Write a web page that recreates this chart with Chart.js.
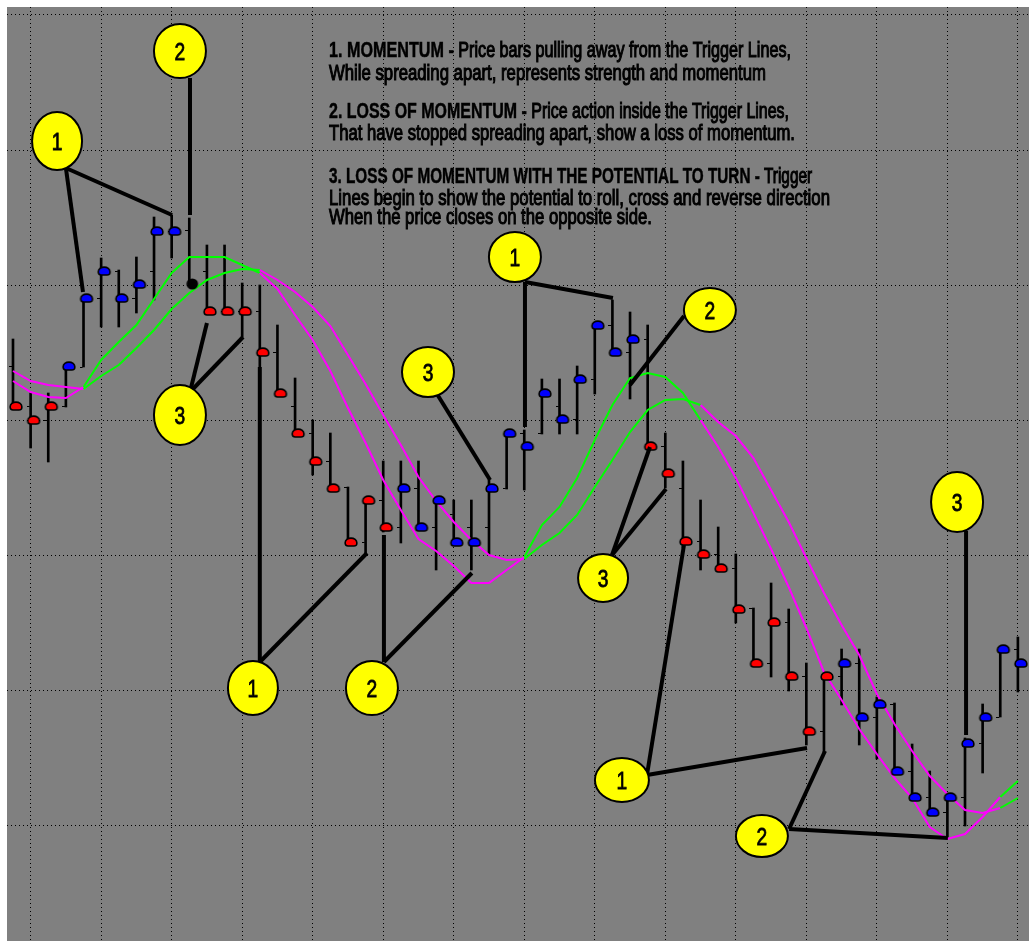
<!DOCTYPE html>
<html>
<head>
<meta charset="utf-8">
<script src="https://cdn.jsdelivr.net/npm/chart.js@4.4.0/dist/chart.umd.min.js"></script>
<style>
  html, body { margin: 0; padding: 0; background: #fff; }
  #wrap { width: 1029px; height: 941px; }
</style>
</head>
<body>
<div id="wrap"><canvas id="chart" width="1029" height="941"></canvas></div>
<script>
// price bars, one per session (bar index = position in array)
const highs = [621, 567, 567, 594, 662, 702, 690, 703, 743, 745,
  742, 715, 715, 677, 675, 635, 582, 540, 527, 473,
  460, 499, 499, 499, 460, 460, 460, 480, 527, 530,
  581, 581, 594, 637, 660, 648, 635, 527, 499, 460,
  433, 406, 352, 377, 351, 297, 284, 311, 311, 263,
  257, 216, 189, 163, 222, 256, 311, 323];
const lows = [554, 512, 498, 553, 593, 633, 633, 647, 660, 702,
  676, 649, 649, 623, 593, 567, 527, 485, 472, 418,
  405, 428, 417, 430, 390, 418, 390, 405, 471, 470,
  526, 526, 526, 566, 608, 561, 513, 472, 412, 390,
  392, 337, 297, 283, 269, 215, 208, 255, 215, 201,
  189, 163, 148, 123, 134, 187, 243, 268];
const opens = [594, 554, 540, 554, 593, 662, 689, 662, 689, 729,
  730, 689, 649, 649, 649, 608, 554, 527, 499, 473,
  418, 460, 433, 472, 433, 446, 433, 433, 472, 527,
  527, 554, 541, 581, 635, 608, 621, 514, 472, 419,
  406, 392, 352, 297, 338, 284, 229, 284, 297, 243,
  256, 189, 163, 148, 163, 217, 243, 311];
const closes = [554, 540, 554, 594, 662, 689, 662, 676, 729, 729,
  676, 649, 649, 649, 608, 567, 527, 499, 472, 418,
  460, 433, 472, 433, 460, 418, 418, 472, 527, 514,
  567, 541, 581, 635, 608, 621, 514, 487, 419, 406,
  392, 351, 297, 338, 284, 229, 284, 297, 243, 256,
  189, 163, 148, 163, 217, 243, 311, 297];
// close marker: r = red, b = blue, k = black
const closeMarks = ["r", "r", "r", "b", "b", "b", "b", "b", "b", "b",
  "k", "r", "r", "r", "r", "r", "r", "r", "r", "r",
  "r", "r", "b", "b", "b", "b", "b", "b", "b", "b",
  "b", "b", "b", "b", "b", "b", "r", "r", "r", "r",
  "r", "r", "r", "r", "r", "r", "r", "b", "b", "b",
  "b", "b", "b", "b", "b", "b", "b", "b"];

// the two trigger lines
const triggerFast = [579, 568, 563, 562, 573, 600, 618, 635, 661, 687,
  703, 703, 703, 695, 687, 671, 645, 620, 589, 552,
  517, 480, 450, 421, 409, 394, 377, 377, 390, 403,
  435, 453, 482, 520, 555, 582, 587, 583, 567, 540,
  513, 482, 447, 411, 373, 332, 288, 260, 231, 206,
  182, 162, 133, 121, 126, 143, 163, 179];
const triggerSlow = [589, 579, 575, 573, 571, 584, 595, 612, 630, 651,
  667, 680, 687, 691, 690, 680, 668, 653, 634, 605,
  576, 545, 515, 483, 459, 438, 420, 405, 400, 401,
  415, 427, 445, 473, 500, 528, 550, 560, 561, 555,
  538, 524, 502, 470, 438, 402, 367, 335, 305, 266,
  236, 209, 184, 166, 150, 147, 152, 162];

// grid positions
const gridBars = [1, 5, 9, 13, 17, 21, 25, 29, 33, 37, 41, 45, 49, 53, 57];
const gridPrices = [135, 270, 405, 540, 675, 810, 945];

// numbered callouts: circle centre, hub on the rim, and the bar/price each arm points to
const callouts = [
  { num: "2", at: [9.47, 909], hub: [10.04, 882], to: [[10.04, 745]], r: [26, 27] },
  { num: "1", at: [2.5, 819], hub: [3.0, 792], to: [[3.97, 668], [9.02, 745]], r: [25, 29] },
  { num: "3", at: [9.47, 545], hub: [10.04, 568], to: [[11.0, 637], [13.05, 623]], r: [26, 30] },
  { num: "1", at: [13.61, 272], hub: [14.0, 298], to: [[14.0, 593], [20.08, 407]], r: [25, 27] },
  { num: "2", at: [20.36, 272], hub: [21.04, 298], to: [[21.04, 425], [26.03, 387]], r: [26, 27] },
  { num: "3", at: [23.54, 588], hub: [24.05, 566], to: [[27.06, 480]], r: [26, 25] },
  { num: "1", at: [28.47, 703], hub: [29.04, 678], to: [[29.04, 533], [34.03, 662]], r: [26, 25] },
  { num: "2", at: [39.53, 650], hub: [38.06, 644], to: [[35.0, 575]], r: [26, 22] },
  { num: "3", at: [33.47, 382], hub: [33.98, 405], to: [[36.13, 513], [37.04, 471]], r: [25, 24] },
  { num: "1", at: [34.54, 180], hub: [35.96, 185], to: [[38.06, 415], [45.04, 212]], r: [27, 22] },
  { num: "2", at: [42.48, 124], hub: [44.02, 131], to: [[46.06, 209], [53.03, 122]], r: [26, 21] },
  { num: "3", at: [53.55, 458], hub: [54.06, 429], to: [[54.06, 225]], r: [26, 30] },
];

const noteLines = [
  { bold: "1. MOMENTUM - ", text: "Price bars pulling away from the Trigger Lines," },
  { bold: "", text: "While spreading apart, represents strength and momentum" },
  { bold: "2. LOSS OF MOMENTUM - ", text: "Price action inside the Trigger Lines," },
  { bold: "", text: "That have stopped spreading apart, show a loss of momentum." },
  { bold: "3. LOSS OF MOMENTUM WITH THE POTENTIAL TO TURN - ", text: "Trigger" },
  { bold: "", text: "Lines begin to show the potential to roll, cross and reverse direction" },
  { bold: "", text: "When the price closes on the opposite side." },
];
const noteX = 329;
const noteBaselines = [57, 80, 118, 140, 183, 205, 224];
const noteWidths = [462, 437, 460, 466, 483, 501, 323];
const noteFont = '"Liberation Sans", Arial, sans-serif';

const upColor = "#00ff00";
const downColor = "#ff00ff";
const markColors = { r: "#ff0000", b: "#0000ff", k: "#000000" };

// little dome that sits just right of the bar
const makeDot = (fill, round) => {
  const c = document.createElement("canvas");
  c.width = 26;
  c.height = 14;
  const g = c.getContext("2d");
  g.fillStyle = fill;
  g.strokeStyle = "#000";
  g.lineWidth = 1.6;
  g.beginPath();
  if (round) {
    g.ellipse(16, 7, 5, 4.8, 0, 0, Math.PI * 2);
  } else {
    g.moveTo(10.2, 8.5);
    g.ellipse(16, 7.5, 5.8, 4.4, 0, Math.PI, Math.PI * 2);
    g.lineTo(21.8, 9);
    g.quadraticCurveTo(21.5, 11, 19, 11);
    g.lineTo(13, 11);
    g.quadraticCurveTo(10.5, 11, 10.2, 8.5);
    g.closePath();
  }
  g.fill();
  g.stroke();
  return c;
};
const dotImages = {
  r: makeDot(markColors.r, false),
  b: makeDot(markColors.b, false),
  k: makeDot(markColors.k, true),
};

const tickImage = (() => {
  const c = document.createElement("canvas");
  c.width = 8;
  c.height = 2;
  const g = c.getContext("2d");
  g.fillStyle = "#000";
  g.fillRect(0, 1, 3, 1);
  return c;
})();

const fastAbove = (i) => triggerFast[i] >= triggerSlow[i];
const segColor = (ctx) => (fastAbove(ctx.p0DataIndex) ? upColor : downColor);

const backdrop = {
  id: "backdrop",
  beforeDraw(chart) {
    const { ctx, chartArea: a } = chart;
    ctx.save();
    ctx.fillStyle = "#ffffff";
    ctx.fillRect(0, 0, chart.width, chart.height);
    ctx.fillStyle = "#808080";
    ctx.fillRect(a.left, a.top, a.right - a.left, a.bottom - a.top);
    ctx.restore();
  },
};

const notes = {
  id: "notes",
  afterDatasetsDraw(chart) {
    const ctx = chart.ctx;
    noteLines.forEach((ln, i) => {
      ctx.save();
      ctx.font = `bold 22px ${noteFont}`;
      const wb = ctx.measureText(ln.bold).width;
      ctx.font = `22px ${noteFont}`;
      const wr = ctx.measureText(ln.text).width;
      const sx = noteWidths[i] / (wb + wr);
      ctx.translate(noteX, noteBaselines[i]);
      ctx.scale(sx, 1);
      ctx.fillStyle = "#000";
      ctx.strokeStyle = "#000";
      ctx.textBaseline = "alphabetic";
      ctx.font = `bold 22px ${noteFont}`;
      ctx.lineWidth = 0.5;
      ctx.fillText(ln.bold, 0, 0);
      ctx.strokeText(ln.bold, 0, 0);
      ctx.font = `22px ${noteFont}`;
      ctx.lineWidth = 1.1;
      ctx.fillText(ln.text, wb, 0);
      ctx.strokeText(ln.text, wb, 0);
      ctx.restore();
    });
  },
};

const calloutPlugin = {
  id: "callouts",
  afterDatasetsDraw(chart) {
    const { ctx, scales } = chart;
    const px = (p) => [scales.x.getPixelForValue(p[0]), scales.y.getPixelForValue(p[1])];
    ctx.save();
    ctx.strokeStyle = "#000";
    ctx.lineWidth = 4;
    callouts.forEach((c) => {
      const [hx, hy] = px(c.hub);
      c.to.forEach((t) => {
        const [tx, ty] = px(t);
        ctx.beginPath();
        ctx.moveTo(hx, hy);
        ctx.lineTo(tx, ty);
        ctx.stroke();
      });
    });
    callouts.forEach((c) => {
      const [cx, cy] = px(c.at);
      ctx.beginPath();
      ctx.ellipse(cx, cy, c.r[0], c.r[1], 0, 0, Math.PI * 2);
      ctx.fillStyle = "#ffff00";
      ctx.fill();
      ctx.lineWidth = 2;
      ctx.stroke();
      ctx.save();
      ctx.translate(cx, cy + 2);
      ctx.scale(0.8, 1);
      ctx.fillStyle = "#000";
      ctx.strokeStyle = "#000";
      ctx.lineWidth = 0.8;
      ctx.font = `24px ${noteFont}`;
      ctx.textAlign = "center";
      ctx.textBaseline = "middle";
      ctx.fillText(c.num, 0, 0);
      ctx.strokeText(c.num, 0, 0);
      ctx.restore();
    });
    ctx.restore();
  },
};

const gridAxis = (min, max, ticks) => ({
  type: "linear",
  min,
  max,
  offset: false,
  afterBuildTicks: (scale) => {
    scale.ticks = ticks.map((v) => ({ value: v }));
  },
  ticks: { display: false },
  grid: { color: "#000000", lineWidth: 1, drawTicks: false, offset: false },
  border: { display: false, dash: [1, 3] },
});

const ctx = document.querySelector("#chart").getContext("2d");

new Chart(ctx, {
  type: "scatter",
  data: {
    datasets: [
      {
        type: "bar",
        data: highs.map((h, i) => ({ x: i, y: [lows[i], h] })),
        backgroundColor: "#000000",
        barThickness: 2,
        grouped: false,
        order: 4,
      },
      {
        type: "scatter",
        data: opens.map((o, i) => ({ x: i, y: o })),
        pointStyle: tickImage,
        pointRadius: 3,
        order: 3,
      },
      {
        type: "line",
        data: triggerSlow.map((v, i) => ({ x: i, y: v })),
        showLine: true,
        borderWidth: 2,
        pointRadius: 0,
        tension: 0,
        borderColor: upColor,
        segment: { borderColor: segColor },
        order: 2,
      },
      {
        type: "line",
        data: triggerFast.map((v, i) => ({ x: i, y: v })),
        showLine: true,
        borderWidth: 2,
        pointRadius: 0,
        tension: 0,
        borderColor: upColor,
        segment: { borderColor: segColor },
        order: 2,
      },
      {
        type: "scatter",
        data: closes.map((c, i) => ({ x: i, y: c })),
        pointStyle: (c) => dotImages[closeMarks[c.dataIndex]],
        pointRadius: 5,
        order: 1,
      },
    ],
  },
  options: {
    responsive: false,
    animation: false,
    devicePixelRatio: 1,
    layout: { autoPadding: false, padding: { left: 7, top: 7, right: 0, bottom: 0 } },
    scales: {
      x: gridAxis(-0.34, 57.63, gridBars),
      y: gridAxis(19, 953, gridPrices),
    },
    plugins: {
      legend: { display: false },
      tooltip: { enabled: false },
    },
  },
  plugins: [backdrop, notes, calloutPlugin],
});
</script>
</body>
</html>
